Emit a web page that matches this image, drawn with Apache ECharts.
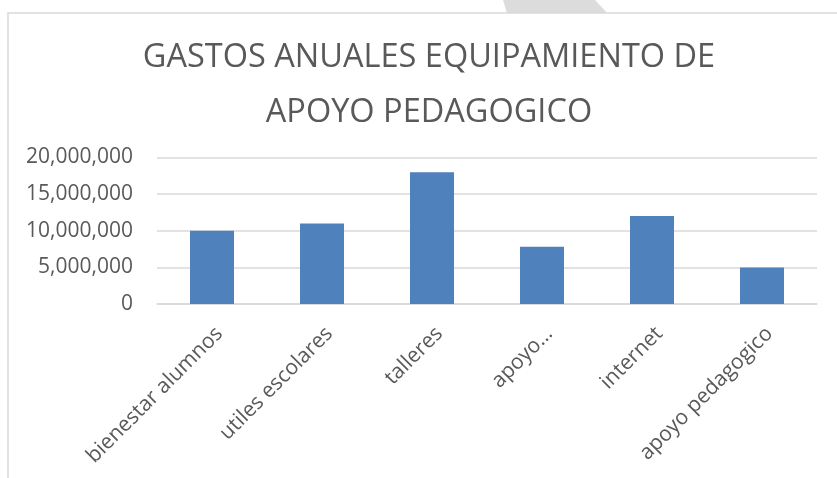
<!DOCTYPE html>
<html>
<head>
<meta charset="utf-8">
<script src="https://cdn.jsdelivr.net/npm/echarts@6/dist/echarts.min.js"></script>
<style>
  html, body { margin: 0; padding: 0; background: #fff; }
  #chart { width: 837px; height: 478px; }
</style>
</head>
<body>
<div id="chart"></div>
<script>
// datos del grafico
var categorias = ['bienestar alumnos', 'utiles escolares', 'talleres', 'apoyo…', 'internet', 'apoyo pedagogico'];
var gastos = [10000000, 11000000, 18000000, 7800000, 12000000, 5000000];
var titulo = ['GASTOS ANUALES EQUIPAMIENTO DE', 'APOYO PEDAGOGICO'];

var myChart = echarts.init(document.getElementById('chart'));
var fuente = '"Open Sans", sans-serif';

var option = {
  backgroundColor: '#fff',
  animation: false,
  graphic: [
    // franja gris de arriba
    {
      type: 'polygon',
      shape: { points: [[503, 0], [595, 0], [607, 13], [507, 13]] },
      style: { fill: '#dcdcdc' },
      z: 0
    },
    // borde del area del grafico
    {
      type: 'rect',
      shape: { x: 8, y: 13, width: 900, height: 600 },
      style: { fill: 'none', stroke: '#d9d9d9', lineWidth: 1.5 },
      z: 1
    },
    {
      type: 'text',
      x: 429, y: 58,
      style: {
        text: titulo[0], fill: '#595959', font: '32.5px ' + fuente,
        textAlign: 'center', textVerticalAlign: 'middle'
      }
    },
    {
      type: 'text',
      x: 429, y: 113,
      style: {
        text: titulo[1], fill: '#595959', font: '32.5px ' + fuente,
        textAlign: 'center', textVerticalAlign: 'middle'
      }
    }
  ],
  grid: {
    left: 157,
    right: 20,
    top: 157.5,
    bottom: 174
  },
  xAxis: {
    type: 'category',
    data: categorias,
    axisTick: { show: false },
    axisLine: { show: true, lineStyle: { color: '#d9d9d9', width: 1.5 } },
    axisLabel: {
      rotate: 45,
      margin: 19,
      interval: 0,
      verticalAlign: 'top',
      color: '#595959',
      fontSize: 21,
      fontFamily: fuente
    }
  },
  yAxis: {
    type: 'value',
    min: 0,
    max: 20000000,
    interval: 5000000,
    axisLine: { show: false },
    axisTick: { show: false },
    splitLine: { lineStyle: { color: '#d9d9d9', width: 1.5 } },
    axisLabel: {
      margin: 24,
      color: '#595959',
      fontSize: 21,
      fontFamily: fuente,
      formatter: function (v) { return v.toLocaleString('en-US'); }
    }
  },
  series: [
    {
      name: 'gastos',
      type: 'bar',
      barWidth: '40%',
      itemStyle: { color: '#4f81bd' },
      data: gastos
    }
  ]
};

myChart.setOption(option);
window.addEventListener('resize', function () {
  myChart.resize();
});
</script>
</body>
</html>
